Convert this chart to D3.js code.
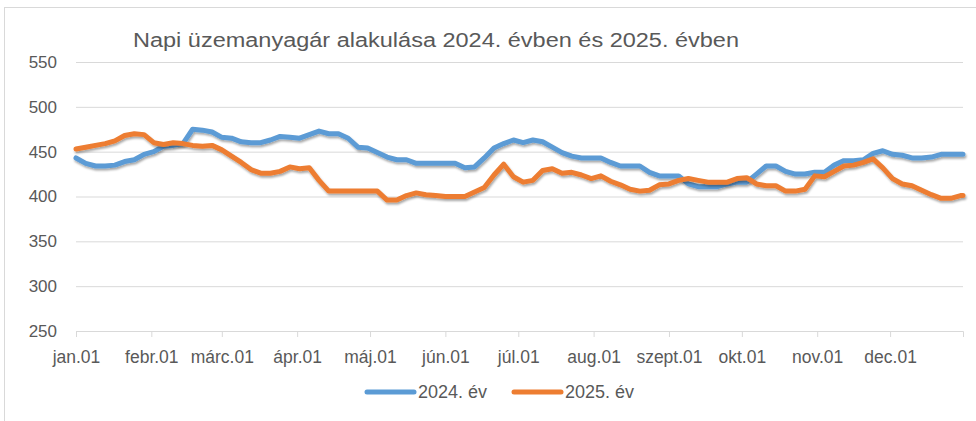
<!DOCTYPE html>
<html>
<head>
<meta charset="utf-8">
<script src="https://cdn.jsdelivr.net/npm/d3@7"></script>
<style>
  html, body { margin: 0; padding: 0; background: #fff; }
  svg { display: block; }
  text { font-family: "Liberation Sans", Arial, sans-serif; fill: #595959; }
</style>
</head>
<body>
<svg id="chart" width="976" height="421"></svg>
<script>
// ---- data (day of year, 0 = jan.01) ----
const title = "Napi üzemanyagár alakulása 2024. évben és 2025. évben";
const days = [0,4,8,12,16,20,24,28,32,36,40,44,48,52,56,60,64,68,72,76,80,84,88,92,96,100,
  104,108,112,116,120,124,128,132,136,140,144,148,152,156,160,164,168,172,176,180,184,188,192,196,
  200,204,208,212,216,220,224,228,232,236,240,244,248,252,256,260,264,268,272,276,280,284,288,292,
  296,300,304,308,312,316,320,324,328,332,336,340,344,348,352,356,360,364,365];
const series2024 = [443,437,434,434,435,439,441,447,450,456,457,459,475,474,472,466,465,461,460,460,463,467,466,465,469,473,
  470,470,465,455,454,449,444,441,441,437,437,437,437,437,432,433,443,454,459,463,460,463,461,455,
  449,445,443,443,443,438,434,434,434,427,423,423,423,414,411,411,411,414,416,416,425,434,434,428,
  425,425,427,427,435,440,440,441,448,451,447,446,443,443,444,447,447,447,447];
const series2025 = [453,455,457,459,462,468,470,469,460,458,460,459,457,456,457,452,445,438,430,426,426,428,433,431,432,418,
  406,406,406,406,406,406,396,396,401,404,402,401,400,400,400,405,410,424,436,422,416,418,429,431,
  426,427,424,420,423,417,413,408,406,407,413,414,418,420,418,416,416,416,420,421,414,412,412,406,
  406,408,423,422,428,434,435,438,442,432,420,414,412,407,402,398,398,401,401];
const seriesNames = ["2024. év", "2025. év"];
const seriesColors = ["#5B9BD5", "#ED7D31"];
const yTicks = [250,300,350,400,450,500,550];
const monthStarts = [0,31,60,91,121,152,182,213,244,274,305,335];
const monthLabels = ["jan.01","febr.01","márc.01","ápr.01","máj.01","jún.01","júl.01","aug.01","szept.01","okt.01","nov.01","dec.01"];

(function () {
// ---- layout ----
const svg = d3.select("#chart");
const mLeft = 76, mRight = 963, mTop = 62, mBottom = 331;
const x = d3.scaleLinear().domain([0, 365]).range([mLeft, mRight]);
const y = d3.scaleLinear().domain([250, 550]).range([mBottom, mTop]);

// chart border
svg.append("rect").attr("x", 4.5).attr("y", 7.5).attr("width", 990).attr("height", 430)
  .attr("fill", "none").attr("stroke", "#d9d9d9").attr("stroke-width", 1);

// shadow filter
const defs = svg.append("defs");
const f = defs.append("filter").attr("id", "shadow").attr("x", "-5%").attr("y", "-20%").attr("width", "110%").attr("height", "140%");
f.append("feDropShadow").attr("dx", 1).attr("dy", 2).attr("stdDeviation", 1.3)
  .attr("flood-color", "#000").attr("flood-opacity", 0.35);

// title
svg.append("text").attr("x", 436).attr("y", 47).attr("text-anchor", "middle")
  .attr("font-size", 20).attr("textLength", 606).attr("lengthAdjust", "spacingAndGlyphs")
  .text(title);

// gridlines + y labels
const yAxis = d3.axisLeft(y).tickValues(yTicks).tickSize(-(mRight - mLeft)).tickPadding(19);
const gy = svg.append("g").attr("transform", `translate(${mLeft},0)`).call(yAxis);
gy.select(".domain").remove();
gy.selectAll(".tick line").attr("stroke", "#d9d9d9").attr("stroke-width", 1);
gy.selectAll(".tick text").attr("font-size", 17).style("fill", "#595959")
  .style("font-family", '"Liberation Sans", Arial, sans-serif');

// x axis
const xAxis = d3.axisBottom(x).tickValues(monthStarts).tickSize(6).tickPadding(14)
  .tickFormat((d, i) => monthLabels[i]);
const gx = svg.append("g").attr("transform", `translate(0,${mBottom})`).call(xAxis);
gx.select(".domain").attr("stroke", "#d9d9d9");
gx.selectAll(".tick line").attr("stroke", "#d9d9d9");
gx.selectAll(".tick text").attr("font-size", 17.5).style("fill", "#595959")
  .style("font-family", '"Liberation Sans", Arial, sans-serif');

// lines
const line = d3.line().x((d, i) => x(days[i])).y(d => y(d)).curve(d3.curveLinear);
[series2024, series2025].forEach((s, k) => {
  svg.append("path").datum(s).attr("d", line)
    .attr("fill", "none").attr("stroke", seriesColors[k]).attr("stroke-width", 5)
    .attr("stroke-linejoin", "round").attr("stroke-linecap", "round")
    .attr("filter", "url(#shadow)");
});

// legend
const legendItems = [{x: 367, tx: 418}, {x: 514, tx: 565}];
legendItems.forEach((p, k) => {
  svg.append("line").attr("x1", p.x).attr("x2", p.x + 47).attr("y1", 392).attr("y2", 392)
    .attr("stroke", seriesColors[k]).attr("stroke-width", 5).attr("stroke-linecap", "round");
  svg.append("text").attr("x", p.tx).attr("y", 398).attr("font-size", 18).text(seriesNames[k]);
});
})();
</script>
</body>
</html>
